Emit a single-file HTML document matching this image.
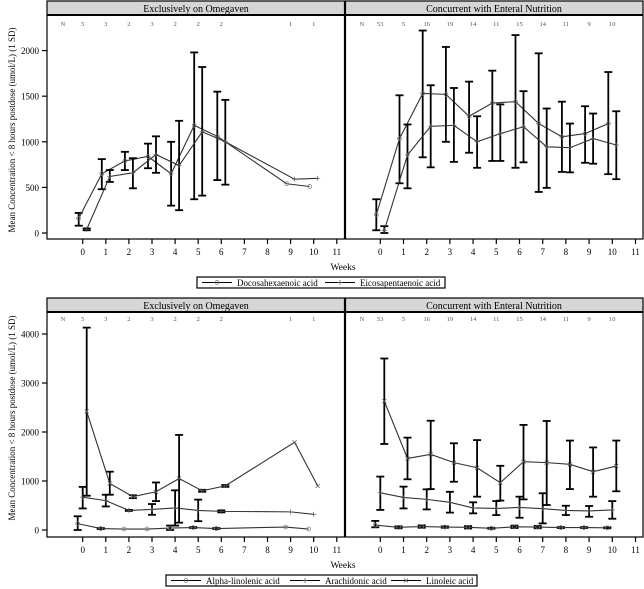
<!DOCTYPE html>
<html><head><meta charset="utf-8"><style>
body{margin:0;background:#fff;width:644px;height:589px;overflow:hidden}
svg{display:block;font-family:"Liberation Serif",serif}
</style></head><body>
<svg id="s" width="644" height="589" viewBox="0 0 644 589"></svg>
<script>
const S=document.getElementById('s');let h='';
function L(x1,y1,x2,y2,w,c){h+=`<line x1="${x1}" y1="${y1}" x2="${x2}" y2="${y2}" stroke="${c||'#000'}" stroke-width="${w||1}"/>`;}
function T(x,y,t,sz,anc,extra){h+=`<text x="${x}" y="${y}" font-size="${sz}" text-anchor="${anc||'middle'}" ${extra||''}>${t}</text>`;}
function panel(cfg){
 const {top,hb,pb,y0,scale,ticks,Nrow,left,right,ns}=cfg;
 // header boxes
 [[47,345,'Exclusively on Omegaven'],[345,643,'Concurrent with Enteral Nutrition']].forEach(([a,b,t])=>{
  h+=`<rect x="${a}" y="${top}" width="${b-a}" height="${hb-top}" fill="#d6d6d6" stroke="#000" stroke-width="1"/>`;
  T((a+b)/2,top+11,t,10);
 });
 L(47,hb,643,hb,2);
 h+=`<rect x="47" y="${top}" width="596" height="${pb-top}" fill="none" stroke="#000" stroke-width="1.2"/>`;
 L(345,top,345,pb,2.2);
 // y ticks
 ticks.forEach(v=>{const y=y0-v*scale;L(42,y,47,y,1.2);T(39,y+3.5,v,9,'end');});
 // x ticks
 [[82.7,23.1],[380.3,23.2]].forEach(([x0,dx],pi)=>{
  for(let w=0;w<=11;w++){const x=x0+dx*w;L(x,pb,x,pb+5,1.2);T(x,pb+16,w,9);}
  T(pi==0?63:362,Nrow,'N',6.5,'middle','fill="#555"');
  ns[pi].forEach((n,i)=>{if(n!=='')T(x0+dx*i,Nrow,n,6.5,'middle','fill="#555"');});
 });
 T(343,pb+31,'Weeks',9.5);
 [[82.7,23.1,left],[380.3,23.2,right]].forEach(([x0,dx,series])=>{
  series.forEach(s=>{
   let pts=[];
   s.d.forEach(d=>{if(!d)return;const x=x0+dx*d[0]+s.off;const y=y0-d[1]*scale;pts.push([x,y]);
    if(d.length>2){const a=y0-d[2]*scale,b=y0-d[3]*scale;L(x,a,x,b,1.8);L(x-4,a,x+4,a,1.8);L(x-4,b,x+4,b,1.8);}
   });
   h+=`<polyline points="${pts.map(p=>p.join(',')).join(' ')}" fill="none" stroke="#333" stroke-width="1.1"/>`;
   pts.forEach(([x,y])=>mark(s.m,x,y));
  });
 });
}
function mark(m,x,y){
 if(m=='o')h+=`<circle cx="${x}" cy="${y}" r="2" fill="none" stroke="#777" stroke-width=".7"/>`;
 else if(m=='+'){L(x-2.5,y,x+2.5,y,.7,'#555');L(x,y-2.5,x,y+2.5,.7,'#555');}
 else {L(x-2,y-2,x+2,y+2,.7,'#555');L(x-2,y+2,x+2,y-2,.7,'#555');}
}
const NL=[5,3,2,3,2,2,2,'','',1,1],NR=[53,5,16,19,14,11,15,14,11,9,10];
panel({top:1,hb:15,pb:239,y0:233,scale:0.0912,ticks:[0,500,1000,1500,2000],Nrow:26,ns:[NL,NR],
left:[
 {m:'o',off:-4,d:[[0,160,80,220],[1,650,480,810],[2,790,690,890],[3,840,710,980],[4,650,300,1000],[5,1180,370,1980],[6,1060,580,1550],[9,540],[10,510]]},
 {m:'+',off:4,d:[[0,40,30,50],[1,620,560,690],[2,660,490,820],[3,860,660,1060],[4,740,250,1230],[5,1110,410,1820],[6,1000,530,1460],[9,590],[10,600]]}],
right:[
 {m:'o',off:-4,d:[[0,200,30,370],[1,1035,545,1510],[2,1530,830,2220],[3,1520,1000,2040],[4,1280,880,1660],[5,1425,790,1780],[6,1440,715,2170],[7,1200,450,1970],[8,1055,670,1440],[9,1090,770,1390],[10,1200,645,1765]]},
 {m:'+',off:4,d:[[0,30,0,75],[1,855,490,1190],[2,1170,720,1620],[3,1180,780,1590],[4,1000,715,1280],[5,1090,790,1410],[6,1165,775,1555],[7,945,495,1365],[8,935,665,1200],[9,1035,760,1310],[10,965,590,1335]]}]
});
panel({top:298,hb:312,pb:537,y0:530,scale:0.049,ticks:[0,1000,2000,3000,4000],Nrow:321,ns:[NL,NR],
left:[
 {m:'o',off:-5,d:[[0,130,0,280],[1,30,20,40],[2,20],[3,20],[4,40,0,90],[5,50,40,60],[6,30,20,40],[9,60],[10,20]]},
 {m:'+',off:0,d:[[0,670,440,880],[1,600,480,720],[2,400,390,410],[3,420,310,530],[4,450,90,810],[5,400,180,620],[6,380,360,400],[9,370],[10,320]]},
 {m:'x',off:4,d:[[0,2420,700,4130],[1,950,720,1190],[2,680,650,710],[3,780,590,970],[4,1050,150,1940],[5,800,780,820],[6,900,880,920],[9,1790],[10,900]]}],
right:[
 {m:'o',off:-5,d:[[0,100,55,185],[1,55,35,75],[2,70,45,95],[3,60,45,75],[4,55,30,80],[5,35,25,45],[6,65,40,90],[7,60,35,85],[8,50,40,60],[9,50,40,60],[10,45,35,55]]},
 {m:'+',off:0,d:[[0,760,410,1090],[1,665,440,885],[2,625,420,830],[3,565,355,780],[4,450,340,565],[5,440,305,590],[6,460,250,680],[7,435,135,750],[8,400,305,495],[9,390,270,490],[10,410,230,590]]},
 {m:'x',off:4,d:[[0,2630,1755,3500],[1,1460,1035,1885],[2,1545,835,2230],[3,1375,985,1770],[4,1270,680,1835],[5,965,600,1310],[6,1395,625,2145],[7,1375,510,2225],[8,1340,835,1825],[9,1190,680,1685],[10,1305,790,1825]]}]
});
// y labels
T(0,0,'Mean Concentration &lt; 8 hours postdose (umol/L) (1 SD)',9,'middle','transform="translate(15,130) rotate(-90)"');
T(0,0,'Mean Concentration &lt; 8 hours postdose (umol/L) (1 SD)',9,'middle','transform="translate(15,418) rotate(-90)"');
// legends
function legend(x1,x2,y1,y2,items){
 h+=`<rect x="${x1}" y="${y1}" width="${x2-x1}" height="${y2-y1}" fill="#fff" stroke="#000" stroke-width="1.2"/>`;
 const cy=(y1+y2)/2;
 items.forEach(([x,m,t])=>{L(x,cy,x+30,cy,1);mark(m,x+15,cy);T(x+35,cy+3.5,t,9,'start');});
}
legend(197,445,277,288,[[202,'o','Docosahexaenoic acid'],[325,'+','Eicosapentaenoic acid']]);
legend(166,477,575,586,[[171,'o','Alpha-linolenic acid'],[290,'+','Arachidonic acid'],[391,'x','Linoleic acid']]);
S.innerHTML=h;
</script>
</body></html>
